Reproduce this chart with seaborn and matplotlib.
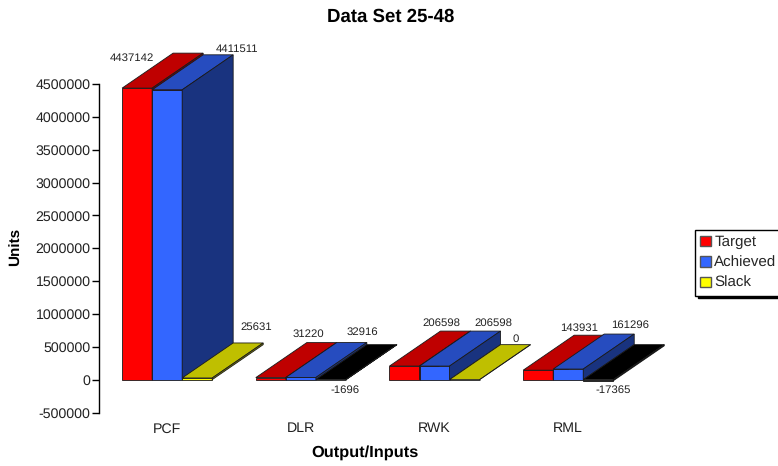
import pandas as pd
import seaborn as sns
import matplotlib.pyplot as plt
from matplotlib.patches import Patch, Polygon

# ---------- data ----------
categories = ['PCF', 'DLR', 'RWK', 'RML']
target = [4437142, 31220, 206598, 143931]
achieved = [4411511, 32916, 206598, 161296]
slack = [25631, -1696, 0, -17365]
series_names = ['Target', 'Achieved', 'Slack']
y_ticks = [-500000, 0, 500000, 1000000, 1500000, 2000000, 2500000, 3000000, 3500000, 4000000, 4500000]

# label offsets in pixels, measured from the back-left corner of each bar top
target_offsets = [(-41, -5), (2, 9), (1, 8), (5, 7)]
achieved_offsets = [(34, 6), (26, 10), (23, 8), (26, 9)]
slack_offsets = [(23, 16), (-22, -45), (15, 6), (-21, -45)]

# face colours: front, top, side
front_colors = ['#FF0000', '#3366FF', '#FFFF00']
top_colors = ['#BF0000', '#264CBF', '#BFBF00']
side_colors = ['#7F0000', '#19337F', '#7F7F00']
NEGATIVE_COLOR = 'black'

# ---------- layout ----------
W, H = 778, 466
AX_LEFT, AX_RIGHT, AX_TOP, AX_BOTTOM = 99.5, 634.25, 84, 412.5
DEPTH_X_PX, DEPTH_Y_PX = 51, 35
FONT = 'Liberation Sans'

sns.set_theme(style='white')
plt.rcParams['font.family'] = [FONT, 'DejaVu Sans']
plt.rcParams['text.hinting'] = 'none'

df = pd.DataFrame({'category': categories, 'Target': target, 'Achieved': achieved, 'Slack': slack})
df = df.melt(id_vars='category', var_name='series', value_name='units')

fig = plt.figure(figsize=(W / 100, H / 100), dpi=100)
ax = fig.add_axes([AX_LEFT / W, 1 - AX_BOTTOM / H, (AX_RIGHT - AX_LEFT) / W, (AX_BOTTOM - AX_TOP) / H])

sns.barplot(data=df, x='category', y='units', hue='series', order=categories, hue_order=series_names,
            palette=front_colors, saturation=1, width=0.674, gap=0, legend=False, errorbar=None, ax=ax)
ax.set_xlim(-0.506, 3.494)
ax.set_ylim(y_ticks[0], y_ticks[-1])

# depth in data units
depth_x = DEPTH_X_PX / ((AX_RIGHT - AX_LEFT) / 4)
depth_y = DEPTH_Y_PX / ((AX_BOTTOM - AX_TOP) / (y_ticks[-1] - y_ticks[0]))

# ---------- fake 3d faces ----------
all_offsets = [target_offsets, achieved_offsets, slack_offsets]
for s, container in enumerate(ax.containers):
    for c, bar in enumerate(container):
        x0, w, value = bar.get_x(), bar.get_width(), bar.get_height()
        top = max(value, 0)
        base = min(value, 0)
        negative = value < 0
        z = 3 + c * 3 + s * 0.1

        bar.set_edgecolor('#1a1a1a')
        bar.set_linewidth(0.6)
        bar.set_zorder(z)
        if negative:
            bar.set_facecolor(NEGATIVE_COLOR)

        top_face = [(x0, top), (x0 + w, top), (x0 + w + depth_x, top + depth_y), (x0 + depth_x, top + depth_y)]
        side_face = [(x0 + w, base), (x0 + w + depth_x, base + depth_y),
                     (x0 + w + depth_x, top + depth_y), (x0 + w, top)]
        top_color = NEGATIVE_COLOR if negative else top_colors[s]
        side_color = NEGATIVE_COLOR if negative else side_colors[s]
        ax.add_patch(Polygon(top_face, closed=True, facecolor=top_color, edgecolor='#1a1a1a',
                             linewidth=0.6, clip_on=False, zorder=z + 0.01))
        ax.add_patch(Polygon(side_face, closed=True, facecolor=side_color, edgecolor='#1a1a1a',
                             linewidth=0.6, clip_on=False, zorder=z + 0.02))

        ax.annotate(str(int(value)), xy=(x0 + depth_x, top + depth_y), xytext=all_offsets[s][c],
                    textcoords='offset pixels', ha='center', va='center', fontsize=8.2,
                    color='#222222', annotation_clip=False, zorder=40)

# ---------- axes ----------
for side in ['top', 'right', 'bottom']:
    ax.spines[side].set_visible(False)
ax.spines['left'].set_color('black')
ax.spines['left'].set_linewidth(1)
ax.set_yticks(y_ticks)
ax.set_yticklabels([str(t) for t in y_ticks], fontsize=10.2, color='#222222')
ax.tick_params(axis='y', left=True, length=5, width=1, color='black', pad=1.5)
ax.tick_params(axis='x', bottom=False, length=0, labelsize=10.2, labelcolor='#222222', pad=7)
ax.set_xlabel('Output/Inputs', fontsize=11.8, fontweight='bold', color='black')
ax.xaxis.set_label_coords((365 - AX_LEFT) / (AX_RIGHT - AX_LEFT), (AX_BOTTOM - 453) / (AX_BOTTOM - AX_TOP), ax.transAxes)
ax.xaxis.label.set_va('center')
ax.set_ylabel('Units', fontsize=11, fontweight='bold', color='black')
ax.yaxis.set_label_coords((16 - AX_LEFT) / (AX_RIGHT - AX_LEFT), (AX_BOTTOM - 247) / (AX_BOTTOM - AX_TOP), ax.transAxes)
ax.yaxis.label.set_va('center')
fig.text(391 / W, 1 - 17 / H, 'Data Set 25-48', ha='center', va='center', fontsize=13.4, fontweight='bold', color='black')

# ---------- legend ----------
handles = [Patch(facecolor=col, edgecolor='#555555', linewidth=1, label=name)
           for col, name in zip(front_colors, series_names)]
leg = fig.legend(handles=handles, loc='upper left', bbox_to_anchor=(695 / W, 1 - 230 / H),
                 bbox_transform=fig.transFigure, fontsize=10.9, frameon=True, fancybox=False,
                 edgecolor='black', facecolor='white', framealpha=1,
                 shadow={'color': 'black', 'alpha': 1, 'ox': 2, 'oy': -1.5},
                 borderaxespad=0, borderpad=0.36, labelspacing=0.42,
                 handlelength=0.72, handleheight=0.68, handletextpad=0.2)
leg.get_frame().set_linewidth(1)

fig.savefig('out.png', dpi=100)
